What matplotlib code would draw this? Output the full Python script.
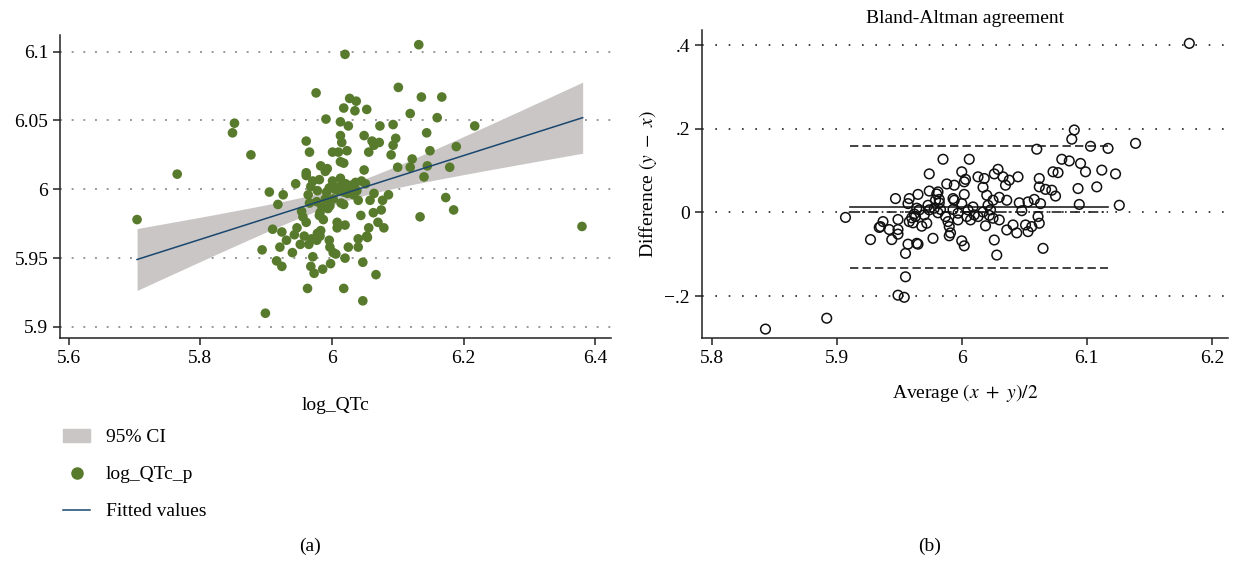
import numpy as np
import matplotlib
matplotlib.use('Agg')
import matplotlib.pyplot as plt
from matplotlib.patches import Patch
from matplotlib.lines import Line2D

plt.rcParams['font.family'] = ['Liberation Serif', 'DejaVu Serif']
plt.rcParams['mathtext.fontset'] = 'stix'

# (a) scatter: log_QTc vs log_QTc_p
log_qtc = [6.020, 6.132, 5.976, 6.101, 6.027, 6.037, 6.136, 6.167, 6.018, 6.035,
           6.053, 6.119, 6.160, 5.852, 5.849, 5.991, 6.013, 6.025, 6.073, 6.093,
           6.217, 6.144, 6.013, 6.049, 6.097, 5.961, 6.015, 6.061, 6.072, 6.064,
           6.093, 6.189, 5.966, 6.001, 6.010, 6.023, 6.056, 6.090, 6.149, 5.877,
           6.013, 6.018, 5.983, 5.993, 5.990, 6.049, 6.100, 6.122, 6.119, 6.145,
           6.179, 6.140, 5.765, 5.961, 5.961, 5.971, 5.981, 5.945, 6.001, 6.013,
           6.036, 6.045, 6.051, 5.968, 6.030, 6.064, 6.086, 6.058, 6.077, 6.173,
           6.185, 6.063, 6.075, 6.044, 6.134, 6.380, 6.020, 6.070, 6.056, 6.079,
           6.054, 6.040, 6.040, 6.025, 6.020, 6.047, 6.067, 6.018, 6.047, 5.905,
           5.926, 5.918, 5.964, 5.978, 5.966, 5.977, 5.990, 6.002, 6.010, 6.018,
           6.024, 6.014, 6.018, 5.997, 5.985, 5.994, 5.982, 6.033, 6.040, 6.038,
           5.954, 5.956, 5.961, 5.981, 5.987, 6.008, 6.008, 5.910, 5.924, 5.947,
           5.943, 5.931, 5.958, 5.952, 5.965, 5.969, 5.978, 5.983, 5.982, 5.977,
           5.996, 5.997, 6.002, 6.053, 5.894, 5.921, 5.940, 5.971, 6.006, 5.916,
           5.924, 5.968, 5.973, 5.986, 5.998, 5.963, 5.899, 5.704, 5.996, 6.005,
           6.012, 6.026, 5.992, 6.021]
log_qtc_p = [6.098, 6.105, 6.070, 6.074, 6.066, 6.064, 6.067, 6.067, 6.059, 6.057,
             6.058, 6.055, 6.052, 6.048, 6.041, 6.051, 6.049, 6.046, 6.046, 6.047,
             6.046, 6.041, 6.039, 6.039, 6.037, 6.035, 6.034, 6.035, 6.034, 6.032,
             6.032, 6.031, 6.027, 6.027, 6.027, 6.028, 6.027, 6.025, 6.028, 6.025,
             6.020, 6.019, 6.017, 6.015, 6.013, 6.014, 6.016, 6.022, 6.016, 6.017,
             6.016, 6.009, 6.011, 6.012, 6.010, 6.006, 6.007, 6.004, 6.006, 6.008,
             6.005, 6.006, 6.004, 6.002, 6.003, 5.997, 5.996, 5.992, 5.992, 5.994,
             5.985, 5.983, 5.985, 5.981, 5.980, 5.973, 5.974, 5.976, 5.972, 5.972,
             5.965, 5.964, 5.958, 5.958, 5.950, 5.947, 5.938, 5.928, 5.919, 5.998,
             5.996, 5.989, 5.996, 5.999, 5.990, 5.991, 5.993, 5.993, 5.999, 5.998,
             5.997, 5.990, 5.989, 5.988, 5.987, 5.986, 5.983, 5.996, 5.992, 5.999,
             5.984, 5.980, 5.976, 5.981, 5.978, 5.976, 5.972, 5.971, 5.969, 5.972,
             5.967, 5.963, 5.966, 5.960, 5.960, 5.964, 5.968, 5.970, 5.966, 5.963,
             5.963, 5.958, 5.954, 5.966, 5.956, 5.958, 5.954, 5.951, 5.953, 5.948,
             5.944, 5.944, 5.939, 5.942, 5.946, 5.928, 5.910, 5.978, 6.001, 6.000,
             6.002, 6.001, 5.998, 6.004]

# fitted line: value at the two ends of log_QTc
fit_x_ends = [5.704, 6.381]
fit_y_ends = [5.949, 6.052]

# (b) Bland-Altman: average and difference
ba_avg = [5.843, 5.892, 5.907, 5.927, 5.935, 5.937, 5.942, 5.944, 5.947, 5.949,
          5.949, 5.949, 5.955, 5.955, 5.949, 5.954, 5.957, 5.958, 5.958, 5.961,
          5.963, 5.964, 5.934, 5.957, 5.965, 5.965, 5.974, 5.974, 5.977, 5.985,
          5.980, 5.982, 5.979, 5.988, 5.994, 6.000, 6.003, 6.002, 6.006, 6.013,
          6.018, 6.002, 5.993, 5.994, 6.000, 6.002, 5.990, 5.991, 6.026, 6.028,
          6.017, 6.020, 6.026, 6.029, 6.033, 6.035, 6.038, 6.045, 6.025, 6.030,
          6.036, 6.046, 6.053, 6.058, 6.048, 6.051, 6.056, 6.044, 6.036, 6.030,
          6.022, 6.019, 6.061, 6.062, 6.062, 6.062, 6.060, 5.960, 5.962, 5.966,
          5.970, 5.972, 5.968, 5.974, 5.978, 5.981, 5.983, 5.987, 5.989, 5.990,
          5.997, 5.997, 6.004, 6.005, 6.009, 6.010, 6.007, 6.013, 6.017, 6.021,
          6.023, 6.025, 5.993, 6.000, 5.982, 5.973, 5.964, 6.090, 6.088, 6.103,
          6.117, 6.139, 6.080, 6.086, 6.095, 6.099, 6.112, 6.123, 6.073, 6.077,
          6.067, 6.072, 6.075, 6.093, 6.108, 6.094, 6.126, 6.063, 6.041, 6.053,
          6.065, 6.182, 5.981]
ba_diff = [-0.279, -0.253, -0.012, -0.065, -0.034, -0.022, -0.041, -0.065, 0.033, -0.041,
           -0.052, -0.017, -0.098, -0.154, -0.198, -0.203, 0.021, 0.033, -0.022, -0.025,
           -0.010, -0.074, -0.036, -0.076, -0.076, 0.043, 0.092, 0.051, -0.062, 0.127,
           0.044, 0.031, 0.029, 0.068, 0.065, 0.097, 0.079, 0.073, 0.127, 0.085,
           0.081, 0.043, 0.033, 0.029, -0.068, -0.080, -0.056, -0.049, -0.066, -0.102,
           0.060, 0.041, 0.092, 0.103, 0.085, 0.065, 0.077, 0.085, 0.029, 0.036,
           0.029, 0.023, 0.025, 0.031, 0.004, -0.030, -0.034, -0.049, -0.042, -0.018,
           -0.007, -0.032, -0.010, -0.026, 0.081, 0.061, 0.151, -0.013, -0.004, 0.006,
           -0.006, -0.026, -0.033, 0.006, 0.010, -0.001, 0.007, -0.010, -0.022, -0.034,
           -0.002, -0.018, -0.010, 0.006, 0.013, -0.006, -0.018, -0.010, 0.001, 0.017,
           0.006, -0.014, 0.007, 0.021, 0.023, 0.017, 0.010, 0.197, 0.175, 0.158,
           0.153, 0.165, 0.127, 0.123, 0.117, 0.097, 0.101, 0.092, 0.097, 0.095,
           0.055, 0.053, 0.039, 0.057, 0.061, 0.019, 0.017, 0.021, -0.030, -0.046,
           -0.086, 0.404, 0.049]

# summary lines
ba_mean = 0.013
ba_loa = [-0.133, 0.159]
ba_range = [5.911, 6.117]

green = '#587a2c'
navy = '#1a476f'
band = '#cac6c6'

fig = plt.figure(figsize=(12.33, 5.61), dpi=100)

# ---------- panel (a)
ax1 = fig.add_axes([0.0487, 0.3975, 0.4468, 0.540])
x = np.array(log_qtc)
y = np.array(log_qtc_p)
slope = (fit_y_ends[1] - fit_y_ends[0]) / (fit_x_ends[1] - fit_x_ends[0])
icpt = fit_y_ends[0] - slope * fit_x_ends[0]
xs = np.linspace(fit_x_ends[0], fit_x_ends[1], 200)
fit = icpt + slope * xs
# 95% CI of the mean prediction
n = len(x)
resid = y - (icpt + slope * x)
s = np.sqrt(np.sum(resid ** 2) / (n - 2))
sxx = np.sum((x - x.mean()) ** 2)
half = 1.975 * s * np.sqrt(1.0 / n + (xs - x.mean()) ** 2 / sxx)

for yv in [5.9, 5.95, 6.0, 6.05, 6.1]:
    ax1.axhline(yv, color='#999999', ls=(0, (1, 5)), lw=1.4, zorder=0)
ax1.fill_between(xs, fit - half, fit + half, color=band, lw=0, zorder=1)
ax1.scatter(x, y, s=48, color=green, edgecolors='none', zorder=2)
ax1.plot(xs, fit, color=navy, lw=1.1, zorder=3)

ax1.set_xlim(5.587, 6.424)
ax1.set_ylim(5.892, 6.112)
ax1.set_xticks([5.6, 5.8, 6.0, 6.2, 6.4], ['5.6', '5.8', '6', '6.2', '6.4'])
ax1.set_yticks([5.9, 5.95, 6.0, 6.05, 6.1], ['5.9', '5.95', '6', '6.05', '6.1'])
ax1.set_xlabel('log_QTc', fontsize=14, labelpad=22)

handles = [Patch(color=band),
           Line2D([], [], marker='o', ls='none', color=green, markersize=8),
           Line2D([], [], color=navy, lw=1.1)]
ax1.legend(handles, ['95% CI', 'log_QTc_p', 'Fitted values'],
           loc='upper left', bbox_to_anchor=(0.037, 0.267), bbox_transform=fig.transFigure,
           frameon=False, fontsize=14, labelspacing=1.0, handlelength=1.4,
           handletextpad=0.8)

# ---------- panel (b)
ax2 = fig.add_axes([0.5691, 0.397, 0.4269, 0.5495])
for yv in [-0.2, 0.0, 0.2, 0.4]:
    ax2.axhline(yv, color='#222222', ls=(0, (1, 7)), lw=1.2, zorder=0)
ax2.plot(ba_range, [ba_loa[1], ba_loa[1]], color='#222222', lw=1.2, ls=(0, (5, 2.5)))
ax2.plot(ba_range, [ba_loa[0], ba_loa[0]], color='#222222', lw=1.2, ls=(0, (5, 2.5)))
ax2.plot(ba_range, [ba_mean, ba_mean], color='#222222', lw=1.2)
ax2.plot(ba_range, [0, 0], color='#222222', lw=1.2, ls=(0, (6, 2, 1, 2)))
ax2.scatter(ba_avg, ba_diff, s=48, facecolors='none', edgecolors='#111111',
            linewidths=1.1, zorder=3)

ax2.set_xlim(5.792, 6.213)
ax2.set_ylim(-0.301, 0.436)
ax2.set_xticks([5.8, 5.9, 6.0, 6.1, 6.2], ['5.8', '5.9', '6', '6.1', '6.2'])
ax2.set_yticks([-0.2, 0.0, 0.2, 0.4], ['\u2212.2', '0', '.2', '.4'])
ax2.set_xlabel(r'Average $(x\ +\ y)/2$', fontsize=14, labelpad=11)
ax2.set_ylabel(r'Difference $(y\ -\ x)$', fontsize=14, labelpad=4)
ax2.set_title('Bland-Altman agreement', fontsize=14, pad=5)

for ax in (ax1, ax2):
    for sp in ('top', 'right'):
        ax.spines[sp].set_visible(False)
    for sp in ('left', 'bottom'):
        ax.spines[sp].set_linewidth(1.1)
        ax.spines[sp].set_color('#222222')
    ax.tick_params(direction='out', length=5, width=1.1, labelsize=14, color='#222222')

fig.text(310 / 1233, 1 - 546 / 561, '(a)', ha='center', va='center', fontsize=14)
fig.text(930 / 1233, 1 - 546 / 561, '(b)', ha='center', va='center', fontsize=14)

fig.savefig('out.png', dpi=100)
